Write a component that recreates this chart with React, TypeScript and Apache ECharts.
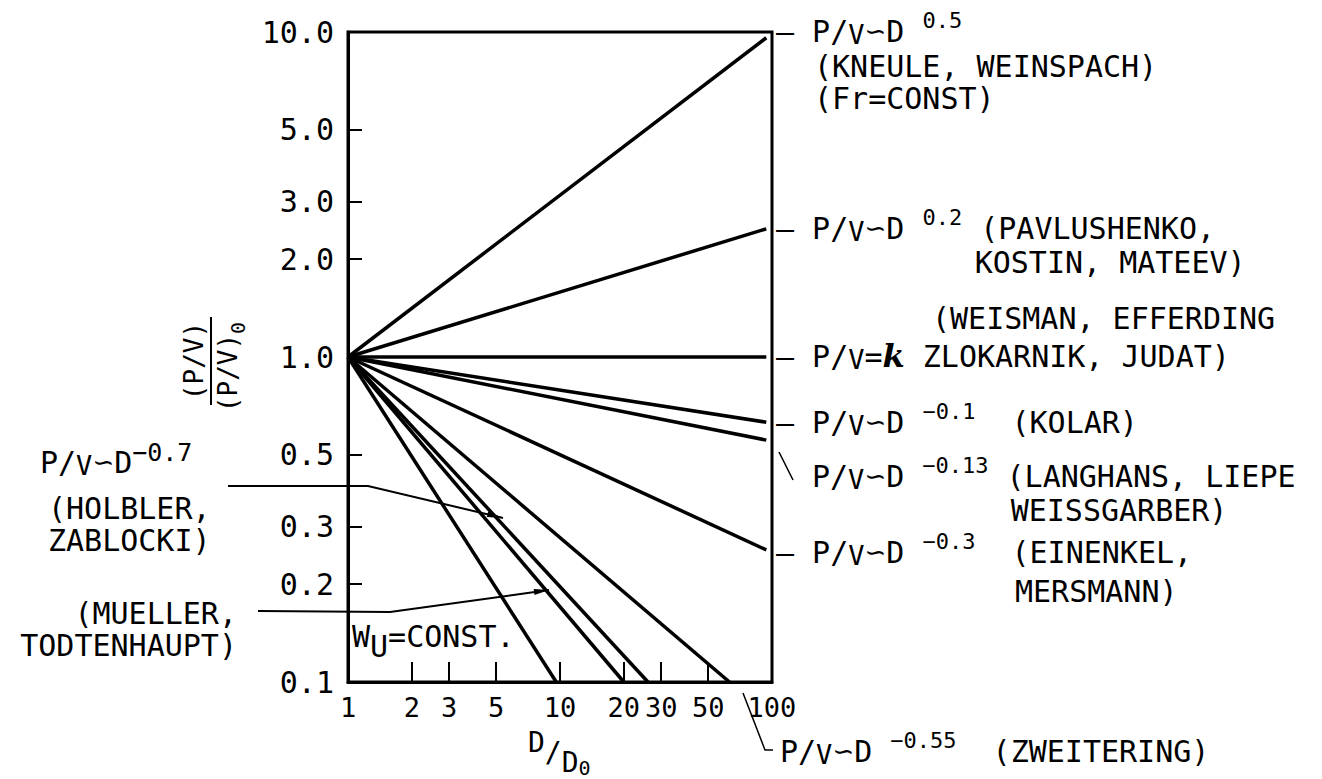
import React, { useEffect, useRef } from 'react';
import * as echarts from 'echarts';

// ---- axis ticks and labels ----
const X_LABEL_VALUES = [1, 2, 3, 5, 10, 20, 30, 50, 100];
const X_TICK_VALUES = [2, 3, 5, 10, 20, 30, 50];
const Y_LABEL_VALUES = [0.1, 0.2, 0.3, 0.5, 1, 2, 3, 5, 10];
const Y_TICK_VALUES = [0.2, 0.3, 0.5, 2, 3, 5];

// ---- series: [D/D0, (P/V)/(P/V)0] endpoints ----
const LINE_P050 = [[1, 1], [94, 9.6]];
const LINE_P020 = [[1, 1], [94, 2.48]];
const LINE_P000 = [[1, 1], [94, 1.0]];
const LINE_M010 = [[1, 1], [94, 0.63]];
const LINE_M013 = [[1, 1], [94, 0.555]];
const LINE_M030 = [[1, 1], [94, 0.255]];
const LINE_M055 = [[1, 1], [63, 0.1]];
const LINE_M070 = [[1, 1], [26, 0.1]];
const LINE_M077 = [[1, 1], [20, 0.1]];
const LINE_M100 = [[1, 1], [9.6, 0.1]];

const SERIES_DATA = [
  LINE_P050, LINE_P020, LINE_P000, LINE_M010, LINE_M013,
  LINE_M030, LINE_M055, LINE_M070, LINE_M077, LINE_M100,
];

const FONT = "'DejaVu Sans Mono', monospace";

const RICH: any = {
  n: { fontFamily: FONT, fontSize: 30, fill: '#000', lineHeight: 32, verticalAlign: 'middle' },
  v: { fontFamily: FONT, fontSize: 27, fill: '#000', height: 26, verticalAlign: 'bottom' },
  t: { fontFamily: "'DejaVu Sans', sans-serif", fontSize: 26, fill: '#000', verticalAlign: 'middle' },
  s: { fontFamily: FONT, fontSize: 22, fill: '#000', height: 10, verticalAlign: 'top' },
  s2: { fontFamily: FONT, fontSize: 25, fill: '#000', height: 12, verticalAlign: 'top' },
  k: { fontFamily: "'DejaVu Serif', serif", fontSize: 32, fontWeight: 'bold', fontStyle: 'italic', fill: '#000', lineHeight: 32, verticalAlign: 'middle' },
  u: { fontFamily: FONT, fontSize: 30, fill: '#000', height: 12, verticalAlign: 'bottom' },
  m: { fontFamily: FONT, fontSize: 30, fill: '#000', lineHeight: 36, verticalAlign: 'middle' },
};

function richText(x: number, y: number, text: string, vAlign = 'middle') {
  return {
    type: 'text',
    x,
    y,
    silent: true,
    style: {
      text,
      rich: RICH,
      fontFamily: FONT,
      fontSize: 30,
      fill: '#000',
      align: 'left',
      verticalAlign: vAlign,
    },
  };
}

function plainText(x: number, y: number, text: string, size = 30, align = 'left', lineHeight?: number, vAlign = 'middle') {
  const style: any = { text, fontFamily: FONT, fontSize: size, fill: '#000', align, verticalAlign: vAlign };
  if (lineHeight) style.lineHeight = lineHeight;
  return { type: 'text', x, y, silent: true, style };
}

const PV = '{n|P/}{v|V}';
const PVD = `${PV}{t|∽}{n|D}`;

export default function App() {
  const ref = useRef<HTMLDivElement>(null);

  useEffect(() => {
    if (!ref.current) return;
    const chart = echarts.init(ref.current, null, { renderer: 'svg' });

    const series = SERIES_DATA.map((data) => ({
      type: 'line',
      data,
      symbol: 'none',
      silent: true,
      lineStyle: { color: '#000', width: 3.5 },
      z: 3,
    }));

    const graphic: any[] = [
      // right side annotations
      richText(776, 31, `{n|– }${PVD}{n| }{s|0.5}`),
      plainText(814, 50, '(KNEULE, WEINSPACH)\n(Fr=CONST)', 30, 'left', 32, 'top'),
      richText(776, 212, `{n|– }${PVD}{n| }{s|0.2}{n| (PAVLUSHENKO,}\n{m|           KOSTIN, MATEEV)}`, 'top'),
      plainText(932, 318, '(WEISMAN, EFFERDING'),
      richText(776, 356, `{n|– }${PV}{n|=}{k|k}{n| ZLOKARNIK, JUDAT)}`),
      richText(776, 422, `{n|– }${PVD}{n| }{s|−0.1}{n|  (KOLAR)}`),
      richText(812, 460, `${PVD}{n| }{s|−0.13}{n| (LANGHANS, LIEPE}\n{m|           WEISSGARBER)}`, 'top'),
      richText(776, 552, `{n|– }${PVD}{n| }{s|−0.3}{n|  (EINENKEL,}`),
      plainText(1015, 591, 'MERSMANN)'),
      richText(780, 751, `${PVD}{n| }{s|−0.55}{n|  (ZWEITERING)}`),
      // leader for -0.13
      { type: 'line', silent: true, shape: { x1: 779, y1: 452, x2: 793, y2: 480 }, style: { stroke: '#000', lineWidth: 1.5 } },
      // leader for -0.55
      { type: 'polyline', silent: true, shape: { points: [[743, 693], [765, 750], [773, 750]] }, style: { stroke: '#000', lineWidth: 1.5, fill: null } },
      // left annotations
      richText(40, 462, `${PVD}{s2|−0.7}`),
      plainText(48, 492, '(HOLBLER,\nZABLOCKI)', 30, 'left', 32, 'top'),
      plainText(237, 597, '(MUELLER,\nTODTENHAUPT)', 30, 'right', 32, 'top'),
      { type: 'polyline', silent: true, z: 10, shape: { points: [[228, 486], [368, 486], [503, 518]] }, style: { stroke: '#000', lineWidth: 2, fill: null } },
      { type: 'polygon', silent: true, z: 10, shape: { points: [[503, 518], [488.2, 511.3], [486.8, 517.1]] }, style: { fill: '#000' } },
      { type: 'polyline', silent: true, z: 10, shape: { points: [[258, 611], [390, 612], [549, 590]] }, style: { stroke: '#000', lineWidth: 2, fill: null } },
      { type: 'polygon', silent: true, z: 10, shape: { points: [[549, 590], [534.5, 595.1], [533.7, 589.1]] }, style: { fill: '#000' } },
      // W_U = CONST.
      richText(352, 636, '{n|W}{u|U}{n|=CONST.}'),
      // x axis title D/D0
      {
        type: 'text', x: 528, y: 732, silent: true,
        style: {
          text: '{a|D}{b|/}{c|D}{d|0}',
          rich: {
            a: { fontFamily: FONT, fontSize: 28, fill: '#000', height: 20, lineHeight: 40, verticalAlign: 'top' },
            b: { fontFamily: FONT, fontSize: 28, fill: '#000', verticalAlign: 'middle' },
            c: { fontFamily: FONT, fontSize: 28, fill: '#000', height: 20, verticalAlign: 'bottom' },
            d: { fontFamily: FONT, fontSize: 20, fill: '#000', height: 8, verticalAlign: 'bottom' },
          },
          align: 'left', verticalAlign: 'top',
        },
      },
      // y axis title (P/V)/(P/V)0
      {
        type: 'group',
        x: 211,
        y: 361,
        rotation: Math.PI / 2,
        silent: true,
        children: [
          { type: 'text', x: 0, y: -17, style: { text: '(P/V)', fontFamily: FONT, fontSize: 26, fill: '#000', align: 'center', verticalAlign: 'middle' } },
          { type: 'line', shape: { x1: -44, y1: 0, x2: 44, y2: 0 }, style: { stroke: '#000', lineWidth: 2 } },
          {
            type: 'text', x: -6, y: 17,
            style: {
              text: '{a|(P/V)}{b|0}',
              rich: {
                a: { fontFamily: FONT, fontSize: 26, fill: '#000', lineHeight: 30, verticalAlign: 'middle' },
                b: { fontFamily: FONT, fontSize: 20, fill: '#000', height: 10, verticalAlign: 'bottom' },
              },
              align: 'center', verticalAlign: 'middle',
            },
          },
        ],
      },
    ];

    const option: any = {
      animation: false,
      backgroundColor: '#fff',
      grid: {
        left: 348, top: 32, width: 424, height: 650,
        show: true, borderColor: '#000', borderWidth: 3, backgroundColor: 'transparent',
      },
      xAxis: {
        type: 'log', logBase: 10, min: 1, max: 100,
        axisLine: { show: true, onZero: false, lineStyle: { color: '#000', width: 3 } },
        axisTick: { show: true, inside: true, length: 20, lineStyle: { color: '#000', width: 2 }, customValues: X_TICK_VALUES },
        axisLabel: {
          customValues: X_LABEL_VALUES, color: '#000', fontFamily: FONT, fontSize: 27, margin: 12,
          formatter: (v: number) => String(Math.round(v)),
        },
        splitLine: { show: false },
        minorTick: { show: false },
      },
      yAxis: {
        type: 'log', logBase: 10, min: 0.1, max: 10,
        axisLine: { show: true, onZero: false, lineStyle: { color: '#000', width: 3 } },
        axisTick: { show: true, inside: true, length: 14, lineStyle: { color: '#000', width: 2 }, customValues: Y_TICK_VALUES },
        axisLabel: {
          customValues: Y_LABEL_VALUES, color: '#000', fontFamily: FONT, fontSize: 30, margin: 14,
          formatter: (v: number) => Number(v).toFixed(1),
        },
        splitLine: { show: false },
        minorTick: { show: false },
      },
      series,
      graphic,
    };

    chart.setOption(option);
    return () => chart.dispose();
  }, []);

  return (
    <div
      ref={ref}
      style={{ position: 'fixed', left: 0, top: 0, width: 1322, height: 779, background: '#fff' }}
    />
  );
}
